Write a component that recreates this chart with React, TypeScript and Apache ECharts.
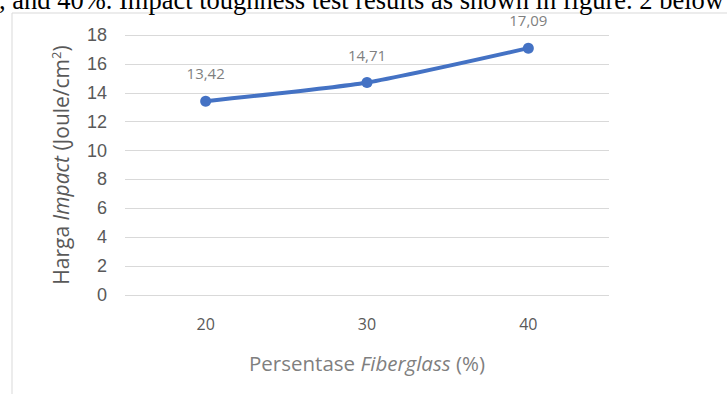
import React, { useEffect, useRef } from "react";
import * as echarts from "echarts";

const categories = ["20", "30", "40"];
const impactValues = [13.42, 14.71, 17.09];
const yTicks = { min: 0, max: 18, interval: 2 };
const headerText = ", and 40%. Impact toughness test results as shown in figure. 2 below";

export default function App() {
  const ref = useRef<HTMLDivElement>(null);
  useEffect(() => {
    if (!ref.current) return;
    const chart = echarts.init(ref.current, null, { renderer: "svg" });
    chart.setOption({
      animation: false,
      backgroundColor: "#ffffff",
      grid: { left: 125, right: 118, top: 35, bottom: 99, containLabel: false },
      graphic: [
        {
          type: "rect",
          shape: { x: 12, y: 13, width: 760, height: 420 },
          style: { fill: "none", stroke: "#d9d9d9", lineWidth: 1 },
          silent: true,
        },
        {
          type: "text",
          x: -1,
          y: 13,
          style: {
            text: headerText,
            font: "26.5px 'Liberation Serif', 'Times New Roman', serif",
            fill: "#000000",
            textVerticalAlign: "bottom",
          },
          silent: true,
        },
      ],
      xAxis: {
        type: "category",
        data: categories,
        boundaryGap: true,
        axisLine: { show: false },
        axisTick: { show: false },
        axisLabel: { color: "#595959", fontSize: 16, fontFamily: "Open Sans", margin: 21 },
        name: "Persentase {i|Fiberglass} (%)",
        nameLocation: "middle",
        nameGap: 57,
        nameTextStyle: {
          color: "#7f7f7f",
          fontSize: 20.5,
          fontFamily: "Open Sans",
          rich: {
            i: { fontStyle: "italic", fontSize: 20.5, color: "#7f7f7f", fontFamily: "Open Sans" },
          },
        },
      },
      yAxis: {
        type: "value",
        min: yTicks.min,
        max: yTicks.max,
        interval: yTicks.interval,
        axisLine: { show: false },
        axisTick: { show: false },
        splitLine: { lineStyle: { color: "#d9d9d9", width: 1 } },
        axisLabel: { color: "#595959", fontSize: 18, fontFamily: "Liberation Sans", margin: 18 },
        name: "Harga {i|Impact} (Joule/cm{s|2})",
        nameLocation: "middle",
        nameGap: 53,
        nameRotate: 90,
        nameTextStyle: {
          color: "#595959",
          fontSize: 21,
          fontFamily: "Open Sans",
          rich: {
            i: { fontStyle: "italic", fontSize: 21, color: "#595959", fontFamily: "Open Sans" },
            s: { fontSize: 13, color: "#595959", fontFamily: "Open Sans", verticalAlign: "top", padding: [0, 0, 10, 0] },
          },
        },
      },
      series: [
        {
          type: "line",
          data: impactValues,
          smooth: 0.2,
          symbol: "circle",
          symbolSize: 11,
          lineStyle: { color: "#4472c4", width: 4 },
          itemStyle: { color: "#4472c4" },
          label: {
            show: true,
            position: "top",
            distance: 15,
            color: "#7f7f7f",
            fontSize: 15,
            fontFamily: "Open Sans",
            formatter: (p: any) => p.value.toFixed(2).replace(".", ","),
          },
        },
      ],
    });
    return () => chart.dispose();
  }, []);
  return (
    <div
      ref={ref}
      style={{ position: "fixed", left: 0, top: 0, width: 727, height: 394, background: "#fff" }}
    />
  );
}
